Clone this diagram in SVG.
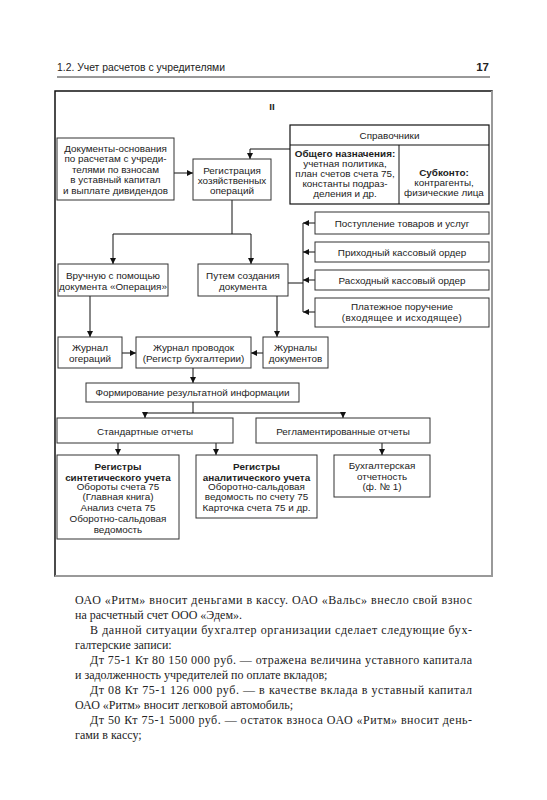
<svg xmlns="http://www.w3.org/2000/svg" width="547" height="800" viewBox="0 0 547 800">
<defs>
<marker id="ah" viewBox="0 0 10 10" refX="10" refY="5" markerWidth="6" markerHeight="6" markerUnits="userSpaceOnUse" orient="auto"><path d="M0,0 L10,5 L0,10 z" fill="#111"/></marker>
</defs>
<style>
.b{fill:#fff;stroke:#333;stroke-width:1}
.t{font-family:"Liberation Sans",Arial,sans-serif;font-size:9.9px;fill:#222;text-anchor:middle}
.tb{font-weight:bold}
.c{fill:none;stroke:#111;stroke-width:1}
.a{marker-end:url(#ah)}
.body{font-family:"Liberation Serif","Times New Roman",serif;font-size:12px;fill:#222}
.hd{font-family:"Liberation Sans",Arial,sans-serif;font-size:11.5px;fill:#222}
</style>
<rect width="547" height="800" fill="#fff"/>

<g id="header">
<text class="hd" x="57" y="71" textLength="168" lengthAdjust="spacingAndGlyphs">1.2. Учет расчетов с учредителями</text>
<text class="hd" x="489" y="71" text-anchor="end" font-weight="bold">17</text>
<line x1="57" y1="77" x2="490" y2="77" stroke="#333" stroke-width="1"/>
</g>

<g id="frame">
<rect x="55" y="91" width="437" height="485" fill="none" stroke="#111" stroke-width="1.5"/>
<line x1="492" y1="91" x2="492" y2="577" stroke="#999" stroke-width="2"/>
<line x1="55" y1="576" x2="493" y2="576" stroke="#999" stroke-width="2"/>
<text class="t tb" x="272" y="110" font-size="10">II</text>
</g>

<g id="connectors">
<path class="c a" d="M174,173 H193"/>
<path class="c a" d="M290,149 H250 V159"/>
<path class="c" d="M232,200 V234 M113,234 H251"/>
<path class="c a" d="M113,234 V264"/>
<path class="c a" d="M251,234 V264"/>
<path class="c" d="M288,283 H303 M303,223 V312"/>
<path class="c a" d="M315,223 H303"/>
<path class="c a" d="M315,252 H303"/>
<path class="c a" d="M315,280 H303"/>
<path class="c a" d="M315,312 H303"/>
<path class="c a" d="M90,296 V337"/>
<path class="c a" d="M277,296 V337"/>
<path class="c a" d="M122,353 H136"/>
<path class="c a" d="M263,353 H251"/>
<path class="c a" d="M193,368 V383"/>
<path class="c" d="M193,402 V413 M145,413 H343"/>
<path class="c a" d="M145,413 V418"/>
<path class="c a" d="M343,413 V418"/>
<path class="c a" d="M118,443 V455"/>
<path class="c a" d="M216,443 V455"/>
<path class="c a" d="M382,443 V455"/>
</g>

<g id="docs">
<rect class="b" x="57" y="138" width="117" height="62"/>
<text class="t" x="115.5" y="151.5">Документы-основания</text>
<text class="t" x="115.5" y="162">по расчетам с учреди-</text>
<text class="t" x="115.5" y="172.5">телями по взносам</text>
<text class="t" x="115.5" y="183">в уставный капитал</text>
<text class="t" x="115.5" y="193.5">и выплате дивидендов</text>
</g>

<g id="reg">
<rect class="b" x="193" y="159" width="78" height="41"/>
<text class="t" x="232" y="173.5">Регистрация</text>
<text class="t" x="232" y="183.5">хозяйственных</text>
<text class="t" x="232" y="193.5">операций</text>
</g>

<g id="sprav">
<rect x="290" y="125" width="199" height="79" fill="#fff" stroke="#111" stroke-width="1.2"/>
<line x1="290" y1="145" x2="489" y2="145" stroke="#111" stroke-width="1.2"/>
<line x1="399" y1="145" x2="399" y2="204" stroke="#111" stroke-width="1"/>
<text class="t" x="389.5" y="139">Справочники</text>
<text class="t tb" x="345" y="156.5">Общего назначения:</text>
<text class="t" x="345" y="166.5">учетная политика,</text>
<text class="t" x="345" y="176.5">план счетов счета 75,</text>
<text class="t" x="345" y="186.5">константы подраз-</text>
<text class="t" x="345" y="197">деления и др.</text>
<text class="t tb" x="444" y="175.5">Субконто:</text>
<text class="t" x="444" y="185.5">контрагенты,</text>
<text class="t" x="444" y="196">физические лица</text>
</g>

<g id="manual">
<rect class="b" x="58" y="264" width="110" height="32"/>
<text class="t" x="113" y="279">Вручную с помощью</text>
<text class="t" x="113" y="289.5">документа «Операция»</text>
</g>

<g id="bydoc">
<rect class="b" x="198" y="264" width="90" height="32"/>
<text class="t" x="243" y="279">Путем создания</text>
<text class="t" x="243" y="289.5">документа</text>
</g>

<g id="d1">
<rect class="b" x="315" y="212" width="174" height="22"/>
<text class="t" x="402" y="226.5">Поступление товаров и услуг</text>
</g>
<g id="d2">
<rect class="b" x="315" y="242" width="174" height="20"/>
<text class="t" x="402" y="255.5">Приходный кассовый ордер</text>
</g>
<g id="d3">
<rect class="b" x="315" y="270" width="174" height="20"/>
<text class="t" x="402" y="283.5">Расходный кассовый ордер</text>
</g>
<g id="d4">
<rect class="b" x="315" y="298" width="174" height="29"/>
<text class="t" x="402" y="309.5">Платежное поручение</text>
<text class="t" x="402" y="320.5" font-size="8.5" letter-spacing="0.3">(входящее и исходящее)</text>
</g>

<g id="jop">
<rect class="b" x="58" y="337" width="64" height="31"/>
<text class="t" x="90" y="350.5">Журнал</text>
<text class="t" x="90" y="361.5">огераций</text>
</g>
<g id="jpr">
<rect class="b" x="136" y="337" width="115" height="31"/>
<text class="t" x="193.5" y="350.5">Журнал проводок</text>
<text class="t" x="193.5" y="361.5">(Регистр бухгалтерии)</text>
</g>
<g id="jdoc">
<rect class="b" x="263" y="337" width="65" height="31"/>
<text class="t" x="295.5" y="350.5">Журналы</text>
<text class="t" x="295.5" y="361.5">документов</text>
</g>

<g id="form">
<rect class="b" x="86" y="383" width="213" height="19"/>
<text class="t" x="192.5" y="396">Формирование результатной информации</text>
</g>

<g id="std">
<rect class="b" x="57" y="418" width="176" height="25"/>
<text class="t" x="145" y="434.5">Стандартные отчеты</text>
</g>
<g id="regl">
<rect class="b" x="256" y="418" width="174" height="25"/>
<text class="t" x="343" y="434.5">Регламентированные отчеты</text>
</g>

<g id="synth">
<rect class="b" x="57" y="455" width="122" height="84"/>
<text class="t tb" x="118" y="469.5">Регистры</text>
<text class="t tb" x="118" y="480.5">синтетического учета</text>
<text class="t" x="118" y="490">Обороты счета 75</text>
<text class="t" x="118" y="500">(Главная книга)</text>
<text class="t" x="118" y="510.5">Анализ счета 75</text>
<text class="t" x="118" y="521.5">Оборотно-сальдовая</text>
<text class="t" x="118" y="532.5">ведомость</text>
</g>
<g id="anal">
<rect class="b" x="196" y="455" width="121" height="63"/>
<text class="t tb" x="256.5" y="469.5">Регистры</text>
<text class="t tb" x="256.5" y="480.5">аналитического учета</text>
<text class="t" x="256.5" y="490">Оборотно-сальдовая</text>
<text class="t" x="256.5" y="500">ведомость по счету 75</text>
<text class="t" x="256.5" y="510.5">Карточка счета 75 и др.</text>
</g>
<g id="buh">
<rect class="b" x="334" y="455" width="96" height="42"/>
<text class="t" x="382" y="468.5">Бухгалтерская</text>
<text class="t" x="382" y="479.5">отчетность</text>
<text class="t" x="382" y="490">(ф. № 1)</text>
</g>

<g id="bodytext">
<text class="body" x="75" y="604" textLength="397" lengthAdjust="spacing">ОАО «Ритм» вносит деньгами в кассу. ОАО «Вальс» внесло свой взнос</text>
<text class="body" x="75" y="619">на расчетный счет ООО «Эдем».</text>
<text class="body" x="90" y="634" textLength="382" lengthAdjust="spacing">В данной ситуации бухгалтер организации сделает следующие бух-</text>
<text class="body" x="75" y="649">галтерские записи:</text>
<text class="body" x="90" y="664" textLength="382" lengthAdjust="spacing">Дт 75-1 Кт 80 150 000 руб. — отражена величина уставного капитала</text>
<text class="body" x="75" y="679">и задолженность учредителей по оплате вкладов;</text>
<text class="body" x="90" y="694" textLength="382" lengthAdjust="spacing">Дт 08 Кт 75-1 126 000 руб. — в качестве вклада в уставный капитал</text>
<text class="body" x="75" y="709">ОАО «Ритм» вносит легковой автомобиль;</text>
<text class="body" x="90" y="724" textLength="382" lengthAdjust="spacing">Дт 50 Кт 75-1 5000 руб. — остаток взноса ОАО «Ритм» вносит день-</text>
<text class="body" x="75" y="739">гами в кассу;</text>
</g>
</svg>
